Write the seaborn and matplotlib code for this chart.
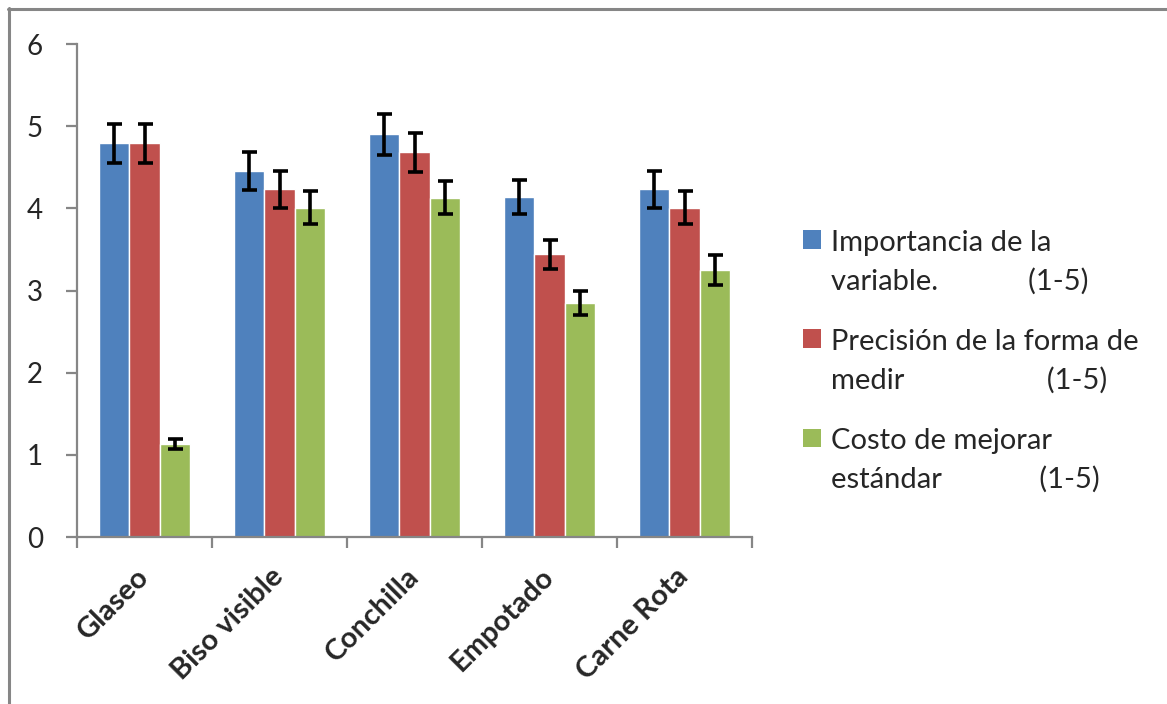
import numpy as np
import pandas as pd
import matplotlib
matplotlib.use("Agg")
import matplotlib.pyplot as plt
from matplotlib.patches import Patch
from matplotlib.lines import Line2D
import seaborn as sns

# data
categorias = ["Glaseo", "Biso visible", "Conchilla", "Empotado", "Carne Rota"]
series = [
    "Importancia de la\nvariable." + " " * 12 + "(1-5)",
    "Precisión de la forma de\nmedir" + " " * 19 + "(1-5)",
    "Costo de mejorar\nestándar" + " " * 13 + "(1-5)",
]
importancia = [4.79, 4.45, 4.90, 4.14, 4.23]
precision = [4.79, 4.23, 4.68, 3.44, 4.01]
costo = [1.13, 4.01, 4.13, 2.85, 3.25]
err_importancia = [0.24, 0.23, 0.245, 0.21, 0.22]
err_precision = [0.24, 0.22, 0.235, 0.18, 0.205]
err_costo = [0.065, 0.20, 0.205, 0.145, 0.18]
colores = ["#4F81BD", "#C0504D", "#9BBB59"]
gris = "#868686"

valores = [importancia, precision, costo]
errores = [err_importancia, err_precision, err_costo]

df = pd.DataFrame({
    "variable": categorias * 3,
    "serie": np.repeat(series, len(categorias)),
    "valor": np.concatenate(valores),
})

sns.set_theme(style="white")
plt.rcParams["font.family"] = ["Lato", "DejaVu Sans"]

fig = plt.figure(figsize=(11.67, 7.04), dpi=100)
ax = fig.add_axes([77 / 1167, 1 - 537 / 704, (752 - 77) / 1167, (537 - 44) / 704])

sns.barplot(data=df, x="variable", y="valor", hue="serie", palette=colores,
            hue_order=series, order=categorias, width=0.667, gap=0,
            saturation=1, errorbar=None, legend=False, ax=ax)

for cont, err in zip(ax.containers, errores):
    xs = [b.get_x() + b.get_width() / 2 for b in cont]
    ys = [b.get_height() for b in cont]
    ax.errorbar(xs, ys, yerr=err, fmt="none", ecolor="black",
                elinewidth=2.6, capsize=5.4, capthick=2.6, zorder=5)

ax.set_xlim(-0.5, len(categorias) - 0.5)
ax.set_ylim(0, 6)
ax.set_yticks(range(7))
ax.set_xlabel("")
ax.set_ylabel("")

sns.despine(ax=ax)
for s in ["left", "bottom"]:
    ax.spines[s].set_color(gris)
    ax.spines[s].set_linewidth(1.6)

ax.tick_params(axis="y", which="major", direction="out", length=8, width=1.6,
               color=gris, labelsize=20, pad=16.5, left=True)
ax.set_xticks(np.arange(-0.5, len(categorias)), minor=True)
ax.tick_params(axis="x", which="minor", direction="out", length=8, width=1.6,
               color=gris, bottom=True)
ax.tick_params(axis="x", which="major", length=0, pad=25.5, labelsize=21)
for lab in ax.get_xticklabels():
    lab.set_rotation(45)
    lab.set_ha("right")
    lab.set_va("center")
    lab.set_rotation_mode("anchor")
    lab.set_fontweight("bold")

handles = [Patch(facecolor=c, edgecolor="none") for c in colores]
leg = ax.legend(handles, series, loc="upper left", frameon=False,
                bbox_to_anchor=(803 / 1167, 1 - 230 / 704),
                bbox_transform=fig.transFigure, fontsize=21,
                handlelength=0.6, handleheight=0.6, handletextpad=0.35,
                labelspacing=1.2, borderpad=0, borderaxespad=0)
for t in leg.get_texts():
    t.set_linespacing(1.52)
for col in leg._legend_handle_box.get_children():
    for row in col.get_children():
        row.align = "top"

# outer chart frame
fig.add_artist(Line2D([8 / 1167, 1], [1 - 8.5 / 704] * 2, transform=fig.transFigure,
                      color=gris, lw=2.2))
fig.add_artist(Line2D([9 / 1167] * 2, [0, 1 - 8 / 704], transform=fig.transFigure,
                      color=gris, lw=2.2))

fig.savefig("out.png", dpi=100)
